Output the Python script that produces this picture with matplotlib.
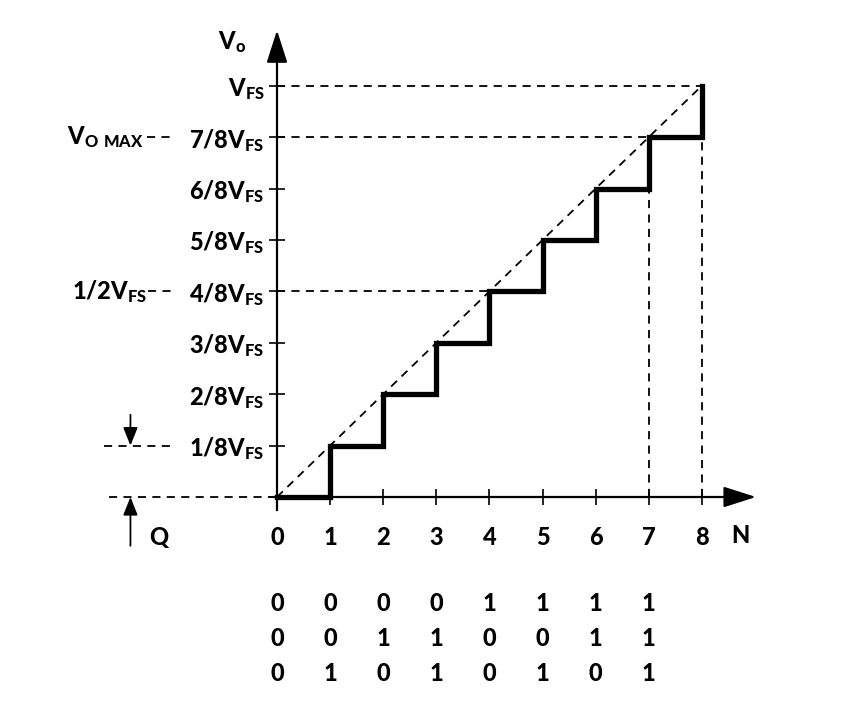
import matplotlib
matplotlib.use("Agg")
import matplotlib.pyplot as plt

plt.rcParams['font.family'] = ['Lato', 'DejaVu Sans']
plt.rcParams['font.weight'] = 'black'
plt.rcParams['mathtext.fontset'] = 'custom'
plt.rcParams['mathtext.rm'] = 'Lato:black'
plt.rcParams['mathtext.default'] = 'rm'

# data: 3-bit DAC transfer function (output in eighths of full scale)
codes = [0, 1, 2, 3, 4, 5, 6, 7, 8]
levels = [0, 1, 2, 3, 4, 5, 6, 7, 8]
x_labels = ['0', '1', '2', '3', '4', '5', '6', '7', '8']
y_labels = ['', '1/8V$_{FS}$', '2/8V$_{FS}$', '3/8V$_{FS}$', '4/8V$_{FS}$',
            '5/8V$_{FS}$', '6/8V$_{FS}$', '7/8V$_{FS}$', 'V$_{FS}$']
bit2 = [0, 0, 0, 0, 1, 1, 1, 1]
bit1 = [0, 0, 1, 1, 0, 0, 1, 1]
bit0 = [0, 1, 0, 1, 0, 1, 0, 1]
guide_levels = [8, 7, 4]      # horizontal dashed guides, from axis to code
guide_codes = [7, 8]          # vertical dashed guides, from level 7 down

fig = plt.figure(figsize=(8.56, 7.26), dpi=100)
ax = fig.add_axes([0, 0, 1, 1])
ax.set_xlim(-277 / 53.1, (856 - 277) / 53.1)
ax.set_ylim(-(726 - 497) / 51.4, 497 / 51.4)

dash = dict(color='k', lw=1.3, dashes=(4.5, 3.5))

# axes as spines through origin
for s in ['top', 'right']:
    ax.spines[s].set_visible(False)
ax.spines['left'].set_position(('data', 0))
ax.spines['bottom'].set_position(('data', 0))
ax.spines['left'].set_bounds(-0.25, 8.7)
ax.spines['bottom'].set_bounds(-0.05, 8.6)
ax.spines['left'].set_linewidth(1.6)
ax.spines['bottom'].set_linewidth(1.6)

ax.set_xticks(codes)
ax.set_xticklabels(x_labels)
ax.set_yticks(levels)
ax.set_yticklabels(y_labels)
ax.tick_params(axis='y', direction='inout', length=12, width=1.2, pad=3, labelsize=17)
ax.tick_params(axis='x', direction='inout', length=12, width=1.2, pad=15, labelsize=17)

big_head = dict(arrowstyle='-|>,head_length=1.0,head_width=0.32',
                color='k', lw=1.6, mutation_scale=20, shrinkA=0, shrinkB=0)
small_head = dict(arrowstyle='-|>,head_length=0.55,head_width=0.22',
                  color='k', lw=1.3, mutation_scale=20, shrinkA=0, shrinkB=0)

# arrow heads
ax.annotate('', xy=(0, 9.08), xytext=(0, 8.6), arrowprops=big_head)
ax.annotate('', xy=(9.02, 0), xytext=(8.5, 0), arrowprops=big_head)

# ideal line and guides
ax.plot([codes[0], codes[-1]], [levels[0], levels[-1]], **dash)
for lv in guide_levels:
    ax.plot([0, lv], [lv, lv], **dash)
for c in guide_codes:
    ax.plot([c, c], [0, 7], **dash)
ax.plot([-3.16, 0], [0, 0], **dash)
ax.plot([-3.26, -1.98], [1, 1], **dash)
ax.plot([-2.45, -1.98], [7, 7], **dash)
ax.plot([-2.42, -1.98], [4, 4], **dash)

# staircase
ax.plot(codes, levels, drawstyle='steps-post', color='k', lw=3.8,
        solid_joinstyle='miter')

# labels
ax.text(-0.85, 8.85, 'V$_{o}$', fontsize=17, ha='center', va='center')
ax.text(8.72, -0.74, 'N', fontsize=17, ha='center', va='center')
ax.text(-2.5, 7, 'V$_{O\\ MAX}$', fontsize=17, ha='right', va='center')
ax.text(-2.45, 4, '1/2V$_{FS}$', fontsize=17, ha='right', va='center')
ax.text(-2.4, -0.78, 'Q', fontsize=17, ha='left', va='center')

# Q arrows
ax.annotate('', xy=(-2.76, 1), xytext=(-2.76, 1.6), arrowprops=small_head)
ax.annotate('', xy=(-2.76, 0), xytext=(-2.76, -0.95), arrowprops=small_head)

# binary codes under each step
for row, bits in zip([-2.08, -2.76, -3.44], [bit2, bit1, bit0]):
    for c, b in zip(codes[:-1], bits):
        ax.text(c, row, str(b), fontsize=17, ha='center', va='center')

fig.savefig('out.png', dpi=100)
